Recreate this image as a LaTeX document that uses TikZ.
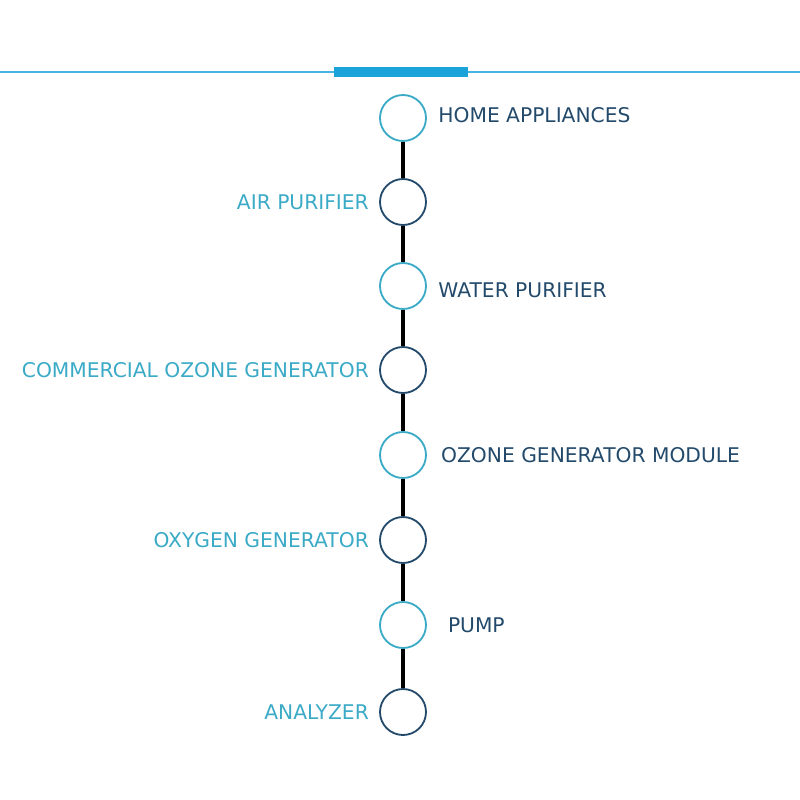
\documentclass[tikz,border=0pt]{standalone}
\usepackage{fontspec}
\setmainfont{DejaVu Sans}
\usetikzlibrary{positioning}
\definecolor{teal}{HTML}{3AAAC6}
\definecolor{navy}{HTML}{234A6B}
\definecolor{barblue}{HTML}{1AA3D9}
\begin{document}
\begin{tikzpicture}[
        every node/.style={font=\fontsize{14.4}{16}\selectfont},
        stop/.style={circle, line width=1.3pt, fill=white, minimum size=1.15cm, inner sep=0pt},
        tealstop/.style={stop, draw=teal},
        navystop/.style={stop, draw=navy},
        rlabel/.style={inner sep=0pt, anchor=west, text=navy},
        llabel/.style={inner sep=0pt, anchor=east, text=teal},
        link/.style={line width=2.6pt, draw=black}
        ]
        \useasboundingbox (0,0) rectangle (20,-20);

        % Top rule with highlight bar
        \coordinate (rulel) at (0,-1.8);
        \coordinate (ruler) at (20,-1.8);
        \coordinate (barl) at (8.35,-1.8);
        \coordinate (barr) at (11.7,-1.8);
        \draw[barblue!80, line width=0.9pt] (rulel) -- (ruler);
        \draw[barblue, line width=7pt] (barl) -- (barr);

        % Timeline stops
        \node[tealstop] (home) at (10.075,-2.95) {};
        \node[navystop] (air) at (10.075,-5.05) {};
        \node[tealstop] (water) at (10.075,-7.15) {};
        \node[navystop] (comm) at (10.075,-9.25) {};
        \node[tealstop] (module) at (10.075,-11.375) {};
        \node[navystop] (oxygen) at (10.075,-13.5) {};
        \node[tealstop] (pump) at (10.075,-15.625) {};
        \node[navystop] (analyzer) at (10.075,-17.8) {};

        \draw[link] (home) -- (air);
        \draw[link] (air) -- (water);
        \draw[link] (water) -- (comm);
        \draw[link] (comm) -- (module);
        \draw[link] (module) -- (oxygen);
        \draw[link] (oxygen) -- (pump);
        \draw[link] (pump) -- (analyzer);

        % Labels
        \node[rlabel, right=0.28cm of home, yshift=0.07cm] (homelbl) {HOME APPLIANCES};
        \node[llabel, left=0.25cm of air] (airlbl) {AIR PURIFIER};
        \node[rlabel, right=0.28cm of water, yshift=-0.1cm] (waterlbl) {WATER PURIFIER};
        \node[llabel, left=0.25cm of comm] (commlbl) {COMMERCIAL OZONE GENERATOR};
        \node[rlabel, right=0.35cm of module] (modulelbl) {OZONE GENERATOR MODULE};
        \node[llabel, left=0.25cm of oxygen] (oxygenlbl) {OXYGEN GENERATOR};
        \node[rlabel, right=0.52cm of pump] (pumplbl) {PUMP};
        \node[llabel, left=0.25cm of analyzer] (analyzerlbl) {ANALYZER};

    \end{tikzpicture}
\end{document}
